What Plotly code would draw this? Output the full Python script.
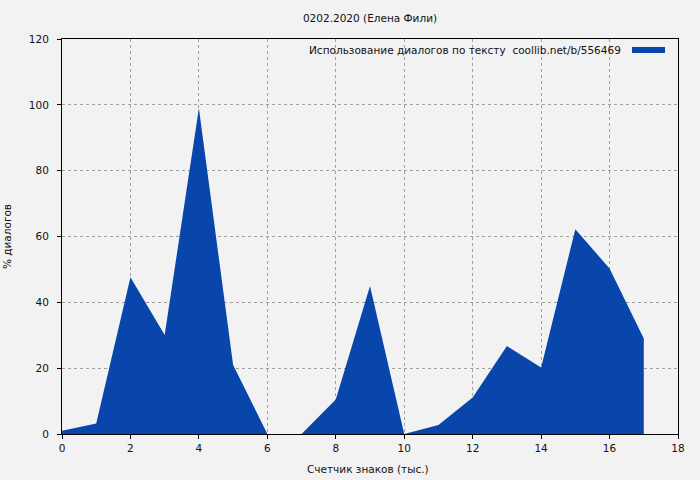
import plotly.graph_objects as go

x_thousands = [0, 1, 2, 3, 4, 5, 6, 7, 8, 9, 10, 11, 12, 13, 14, 15, 16, 17]
dialog_pct = [1.0, 3.2, 47.6, 30.1, 99.0, 21.0, 0, 0, 10.5, 45.0, 0, 2.7, 11.1, 26.7, 20.2, 62.2, 50.3, 29.0]

title_text = "0202.2020 (Елена Фили)"
legend_text = "Использование диалогов по тексту  coollib.net/b/556469"
x_title = "Счетчик знаков (тыс.)"
y_title = "% диалогов"

FILL = "#0846ac"
BG = "#f2f2f2"
FONT = "DejaVu Sans"
FS = 10.5
TXT = "#111"

fig = go.Figure()
fig.add_trace(go.Scatter(
    x=x_thousands, y=dialog_pct, mode="lines", fill="tozeroy",
    fillcolor=FILL, line=dict(width=0, color=FILL), showlegend=False,
    hoverinfo="x+y",
))

axis_common = dict(
    showline=True, linecolor="black", linewidth=1, mirror=True,
    ticks="outside", ticklen=4, tickcolor="black", tickwidth=1,
    showgrid=True, gridcolor="#a0a0a0", griddash="dot", gridwidth=1,
    zeroline=False, automargin=False,
    tickfont=dict(family=FONT, size=FS, color=TXT),
)

fig.update_layout(
    width=700, height=480,
    paper_bgcolor=BG, plot_bgcolor=BG,
    margin=dict(l=62, r=22, t=39, b=46),
    font=dict(family=FONT, size=FS, color=TXT),
    title=dict(text=title_text, x=(62 + 308) / 700, xanchor="center",
               y=1 - 18 / 480, yanchor="middle",
               font=dict(family=FONT, size=FS, color=TXT)),
    xaxis=dict(range=[0, 18], dtick=2, **axis_common),
    yaxis=dict(range=[0, 120], dtick=20, title=dict(text=y_title,
               font=dict(family=FONT, size=FS)), ticklabelstandoff=6,
               **axis_common),
    annotations=[
        dict(text=legend_text, xref="paper", yref="paper",
             x=(623 - 62) / 616, y=1 - 11 / 395, xanchor="right",
             yanchor="middle", showarrow=False,
             font=dict(family=FONT, size=FS, color=TXT)),
        dict(text=x_title, xref="paper", yref="paper",
             x=(368 - 62) / 616, y=-(469 - 434) / 395, xanchor="center",
             yanchor="middle", showarrow=False,
             font=dict(family=FONT, size=FS, color=TXT)),
    ],
    shapes=[dict(type="rect", xref="paper", yref="paper",
                 x0=(632 - 62) / 616, x1=(665 - 62) / 616,
                 y0=1 - 14 / 395, y1=1 - 8 / 395,
                 fillcolor=FILL, line=dict(width=0))],
)

fig.write_html(
    "out.html",
    config={"displayModeBar": False},
    post_script="document.body.style.margin='0';document.body.style.background='#f2f2f2';",
)
